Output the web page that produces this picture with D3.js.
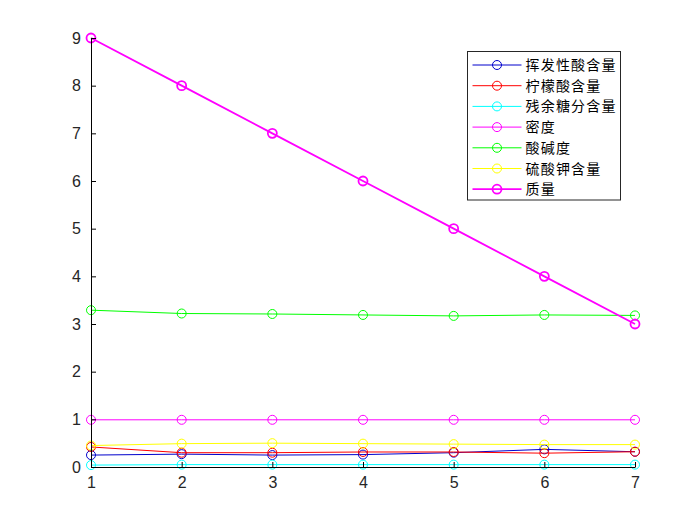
<!DOCTYPE html>
<html><head><meta charset="utf-8">
<script src="https://cdn.jsdelivr.net/npm/d3@7"></script>
<style>body{margin:0;background:#fff}svg{display:block}</style>
</head><body>
<script>
const xs = [1,2,3,4,5,6,7];
const seriesNames = ["挥发性酸含量","柠檬酸含量","残余糖分含量","密度","酸碱度","硫酸钾含量","质量"];
const volatileAcidity = [0.25,0.27,0.25,0.26,0.30,0.37,0.32];
const citricAcid = [0.42,0.30,0.30,0.315,0.315,0.29,0.32];
const residualSugar = [0.04,0.05,0.05,0.05,0.05,0.05,0.05];
const density = [0.99,0.99,0.99,0.99,0.99,0.99,0.99];
const pH = [3.29,3.22,3.21,3.19,3.17,3.19,3.18];
const sulphates = [0.45,0.49,0.50,0.49,0.48,0.47,0.47];
const quality = [9,8,7,6,5,4,3];
const yTicks = [0,1,2,3,4,5,6,7,8,9];
const colors = ["#0000cc","#ff0000","#00ffff","#ff00ff","#00ff00","#ffff00","#ff00ff"];
const widths = [1,1,1,1,1,1,1.8];
const allSeries = [volatileAcidity,citricAcid,residualSugar,density,pH,sulphates,quality];

const W=700,H=525;
const m={left:91,right:65,top:38,bottom:58};
const svg=d3.select("body").append("svg").attr("width",W).attr("height",H);
const x=d3.scaleLinear().domain([1,7]).range([m.left,W-m.right]);
const y=d3.scaleLinear().domain([0,9]).range([H-m.bottom,m.top]);
const font="'Liberation Sans', Arial, sans-serif";

const line=d3.line().x((d,i)=>x(xs[i])).y(d=>y(d));
allSeries.forEach((s,k)=>{
  const g=svg.append("g");
  g.append("path").attr("d",line(s)).attr("fill","none").attr("stroke",colors[k]).attr("stroke-width",widths[k]);
  g.selectAll("circle").data(s).join("circle")
    .attr("cx",(d,i)=>x(xs[i])).attr("cy",d=>y(d)).attr("r",4.5)
    .attr("fill","none").attr("stroke",colors[k]).attr("stroke-width",widths[k]);
});

const xAxis=d3.axisBottom(x).tickValues(xs).tickSizeInner(-5).tickSizeOuter(0).tickPadding(10).tickFormat(d3.format("d"));
const yAxis=d3.axisLeft(y).tickValues(yTicks).tickSizeInner(-5).tickSizeOuter(0).tickPadding(10).tickFormat(d3.format("d"));
const gx=svg.append("g").attr("transform",`translate(0,${H-m.bottom})`).call(xAxis);
const gy=svg.append("g").attr("transform",`translate(${m.left},0)`).call(yAxis);
[gx,gy].forEach(g=>{
  g.selectAll("text").attr("font-family",font).attr("font-size",16).attr("fill","#262626");
  g.selectAll("line,path").attr("stroke","#000").attr("stroke-width",1);
});

const lg=svg.append("g");
const lx=467.5, ly=51.5, lw=153, lh=148.5, rowH=20.7;
lg.append("rect").attr("x",lx).attr("y",ly).attr("width",lw).attr("height",lh)
  .attr("fill","#fff").attr("stroke","#262626").attr("stroke-width",1);
seriesNames.forEach((n,k)=>{
  const cy=ly+13.5+k*rowH;
  lg.append("line").attr("x1",lx+5).attr("x2",lx+54).attr("y1",cy).attr("y2",cy)
    .attr("stroke",colors[k]).attr("stroke-width",widths[k]);
  lg.append("circle").attr("cx",lx+29.5).attr("cy",cy).attr("r",4.5).attr("fill","none")
    .attr("stroke",colors[k]).attr("stroke-width",widths[k]);
  lg.append("text").attr("x",lx+58).attr("y",cy).attr("dy","0.36em")
    .attr("font-family","'Noto Sans CJK SC', sans-serif").attr("font-size",14)
    .attr("letter-spacing","1.2px").attr("fill","#000").text(n);
});
</script>
</body></html>
